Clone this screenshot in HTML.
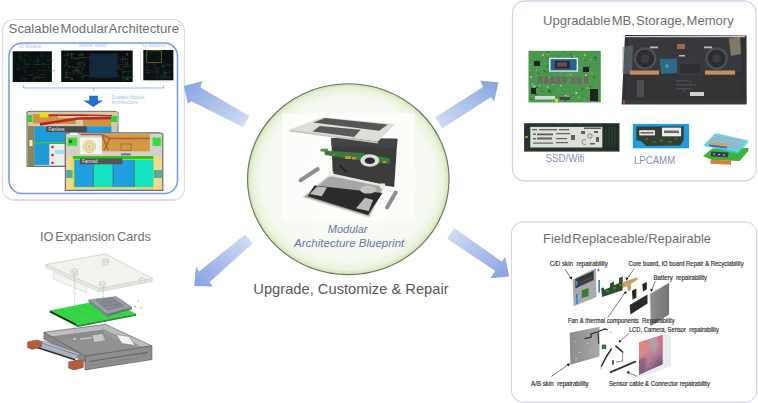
<!DOCTYPE html>
<html><head><meta charset="utf-8">
<style>
html,body{margin:0;padding:0;background:#fff;width:758px;height:403px;overflow:hidden}
svg{display:block;font-family:"Liberation Sans",sans-serif}
</style></head>
<body>
<svg width="758" height="403" viewBox="0 0 758 403">
<defs>
  <linearGradient id="arTL" x1="1" y1="1" x2="0" y2="0">
    <stop offset="0" stop-color="#d6e0f4"/><stop offset="1" stop-color="#85a2e0"/>
  </linearGradient>
  <linearGradient id="arTR" x1="0" y1="1" x2="1" y2="0">
    <stop offset="0" stop-color="#d6e0f4"/><stop offset="1" stop-color="#85a2e0"/>
  </linearGradient>
  <linearGradient id="arBL" x1="1" y1="0" x2="0" y2="1">
    <stop offset="0" stop-color="#d6e0f4"/><stop offset="1" stop-color="#85a2e0"/>
  </linearGradient>
  <linearGradient id="arBR" x1="0" y1="0" x2="1" y2="1">
    <stop offset="0" stop-color="#d6e0f4"/><stop offset="1" stop-color="#85a2e0"/>
  </linearGradient>
  <filter id="bl4" x="-10%" y="-10%" width="120%" height="120%"><feGaussianBlur stdDeviation="0.4"/></filter>
  <filter id="bl6" x="-10%" y="-10%" width="120%" height="120%"><feGaussianBlur stdDeviation="1.3"/></filter>
  <radialGradient id="circ" cx="0.5" cy="0.5" r="0.5">
    <stop offset="0" stop-color="#fbfcf8"/>
    <stop offset="0.86" stop-color="#f6f9f0"/>
    <stop offset="0.95" stop-color="#eaf2dc"/>
    <stop offset="0.985" stop-color="#d8e8c0"/>
    <stop offset="1" stop-color="#c6dba8"/>
  </radialGradient>
</defs>

<!-- panels -->
<rect x="2.5" y="19.5" width="182" height="180.5" rx="11" fill="#fff" stroke="#dedbeb" stroke-width="1.2"/>
<path d="M13 200 H175" stroke="#cfc6e6" stroke-width="1"/>
<rect x="9" y="43" width="168.5" height="150.5" rx="13" fill="none" stroke="#74a0e2" stroke-width="1.6"/>
<rect x="512.5" y="1" width="243.5" height="180" rx="12" fill="#fff" stroke="#d9d5ea" stroke-width="1.3"/>
<rect x="511.5" y="221.8" width="245.3" height="180.5" rx="12" fill="#fff" stroke="#d8d4e8" stroke-width="1.2"/>

<!-- arrows -->
<polygon points="183.8,86 202.2,81.3 200.5,87.4 249.4,116 243.3,127.3 191.3,101.2 187.8,103.8" fill="url(#arTL)"/>
<polygon points="498.5,82.6 480.3,80.5 483,86.9 435.2,117.3 442.1,128.5 490.7,97.3 494.2,101.6" fill="url(#arTR)"/>
<polygon points="194.2,286.1 196,266.6 199.1,271.5 245.1,234.5 252.9,243.2 209.5,282.3 213,286.6" fill="url(#arBL)"/>
<polygon points="509,276.4 505.3,256.8 501.6,261.5 454.2,228 447.1,238.8 495,270.8 490.4,278.2" fill="url(#arBR)"/>

<!-- circle -->
<ellipse cx="348.3" cy="179.2" rx="100.8" ry="95.4" fill="url(#circ)" stroke="#66765a" stroke-width="1.1"/>


<!-- ===== top-left panel content ===== -->
<g id="tl">
  <!-- small labels -->
  <text x="18.8" y="47.6" font-size="5" fill="#aac4f2" textLength="22.6" lengthAdjust="spacingAndGlyphs">IO Module</text>
  <text x="79" y="47.2" font-size="5" fill="#aac4f2" textLength="27.5" lengthAdjust="spacingAndGlyphs">Mother board</text>
  <text x="141.6" y="47.4" font-size="5" fill="#aac4f2" textLength="23.8" lengthAdjust="spacingAndGlyphs">IO Module</text>
  <!-- pcb 1 -->
  <rect x="12.7" y="51.3" width="39.2" height="30.7" fill="#0a1111"/>
  <g filter="url(#bl4)" opacity="0.55">
  <rect x="22.1" y="67.1" width="5.6" height="0.6" fill="#2a5a50"/>
  <rect x="34.6" y="76.6" width="5.3" height="0.6" fill="#3a6a48"/>
  <rect x="47.9" y="65.2" width="0.6" height="3.9" fill="#3a6a48"/>
  <rect x="21.9" y="56.9" width="0.6" height="3.6" fill="#2a5a50"/>
  <rect x="36.8" y="54.7" width="0.6" height="4.4" fill="#24506a"/>
  <rect x="40.5" y="74.4" width="5.6" height="0.6" fill="#4a6a40"/>
  <rect x="38.3" y="76.9" width="6.8" height="0.6" fill="#4a6a40"/>
  <rect x="46.8" y="56.5" width="2.2" height="0.6" fill="#4a6a40"/>
  <rect x="21.4" y="78.1" width="5.8" height="0.6" fill="#24506a"/>
  <rect x="28.3" y="74.7" width="5.2" height="0.6" fill="#4a6a40"/>
  <rect x="33.9" y="76.5" width="0.6" height="5.7" fill="#24506a"/>
  <rect x="47.7" y="70.5" width="7.2" height="0.6" fill="#2a5a50"/>
  <rect x="38.3" y="58.5" width="0.6" height="4.3" fill="#24506a"/>
  <rect x="18.2" y="65.5" width="0.6" height="3.9" fill="#24506a"/>
  <rect x="41.2" y="63.7" width="3.8" height="0.6" fill="#4a6a40"/>
  <rect x="43.7" y="54.1" width="0.6" height="2.2" fill="#24506a"/>
  <rect x="32.7" y="77.0" width="3.4" height="0.6" fill="#2a5a50"/>
  <rect x="24.5" y="55.0" width="2.2" height="0.6" fill="#3a6a48"/>
  <rect x="47.0" y="60.6" width="6.1" height="0.6" fill="#24506a"/>
  <rect x="24.7" y="77.9" width="0.6" height="3.5" fill="#4a6a40"/>
  <rect x="43.6" y="63.0" width="0.6" height="4.7" fill="#2a5a50"/>
  <rect x="35.1" y="77.5" width="4.6" height="0.6" fill="#3a6a48"/>
  <rect x="45.8" y="64.4" width="3.8" height="0.6" fill="#24506a"/>
  <rect x="14.4" y="63.8" width="2.1" height="0.6" fill="#3a6a48"/>
  <rect x="16.0" y="69.3" width="6.1" height="0.6" fill="#24506a"/>
  <rect x="34.7" y="60.3" width="5.5" height="0.6" fill="#2a5a50"/>
  <rect x="46.8" y="59.5" width="5.6" height="0.6" fill="#24506a"/>
  <rect x="20.0" y="57.8" width="0.6" height="5.4" fill="#24506a"/>
  <rect x="24.2" y="62.8" width="0.6" height="2.1" fill="#3a6a48"/>
  <rect x="24.5" y="58.8" width="0.6" height="3.0" fill="#3a6a48"/>
  <rect x="37.1" y="69.9" width="5.6" height="0.6" fill="#24506a"/>
  <rect x="36.9" y="58.8" width="0.6" height="5.8" fill="#2a5a50"/>
  <rect x="25.4" y="69.9" width="0.6" height="3.8" fill="#3a6a48"/>
  <rect x="40.8" y="53.9" width="0.6" height="3.3" fill="#3a6a48"/>
  <rect x="43.4" y="61.8" width="0.6" height="2.3" fill="#24506a"/>
  <rect x="34.0" y="64.0" width="7.1" height="0.6" fill="#4a6a40"/>
  <rect x="25.8" y="63.8" width="4.5" height="0.6" fill="#4a6a40"/>
  <rect x="19.3" y="53.1" width="0.6" height="5.5" fill="#4a6a40"/>
  <rect x="33.0" y="78.6" width="0.6" height="2.1" fill="#4a6a40"/>
  <rect x="42.4" y="70.2" width="3.7" height="0.6" fill="#24506a"/>
  </g>
  <path d="M54.7 51v31M15 83.2h37" stroke="#c8c8c8" stroke-width="0.4"/>
  <!-- pcb 2 motherboard -->
  <rect x="61.2" y="50.5" width="71.5" height="31.5" fill="#0a1010"/>
  <rect x="89.7" y="54" width="27.4" height="23.2" fill="#0f2a38" stroke="#2a1c40" stroke-width="0.8"/>
  <g filter="url(#bl4)" opacity="0.55">
  <rect x="82.6" y="75.3" width="0.6" height="5.9" fill="#4e6e34"/>
  <rect x="80.8" y="53.2" width="0.6" height="4.8" fill="#3e6a40"/>
  <rect x="82.7" y="76.3" width="2.1" height="0.6" fill="#4e6e34"/>
  <rect x="66.8" y="60.1" width="0.6" height="4.1" fill="#5a7a3a"/>
  <rect x="64.2" y="76.7" width="2.8" height="0.6" fill="#5a7a3a"/>
  <rect x="80.9" y="53.7" width="2.7" height="0.6" fill="#4e6e34"/>
  <rect x="66.8" y="73.4" width="0.6" height="5.2" fill="#4e6e34"/>
  <rect x="73.7" y="67.4" width="6.5" height="0.6" fill="#3e6a40"/>
  <rect x="68.9" y="66.2" width="4.8" height="0.6" fill="#4e6e34"/>
  <rect x="81.9" y="72.9" width="2.3" height="0.6" fill="#5a7a3a"/>
  <rect x="84.4" y="75.1" width="5.0" height="0.6" fill="#2a6a7a"/>
  <rect x="66.5" y="53.9" width="4.3" height="0.6" fill="#2a6a7a"/>
  <rect x="70.9" y="57.2" width="2.7" height="0.6" fill="#4e6e34"/>
  <rect x="78.8" y="62.3" width="3.1" height="0.6" fill="#2a6a7a"/>
  <rect x="73.1" y="69.6" width="5.8" height="0.6" fill="#4e6e34"/>
  <rect x="76.7" y="63.7" width="5.0" height="0.6" fill="#2a6a7a"/>
  <rect x="72.3" y="70.7" width="3.5" height="0.6" fill="#2a6a7a"/>
  <rect x="78.3" y="53.9" width="4.6" height="0.6" fill="#4e6e34"/>
  <rect x="83.6" y="62.1" width="0.6" height="5.2" fill="#2a6a7a"/>
  <rect x="65.7" y="70.6" width="0.6" height="4.9" fill="#5a7a3a"/>
  <rect x="77.7" y="71.8" width="2.6" height="0.6" fill="#4e6e34"/>
  <rect x="73.4" y="58.4" width="5.2" height="0.6" fill="#4e6e34"/>
  <rect x="77.5" y="62.1" width="0.6" height="3.4" fill="#4e6e34"/>
  <rect x="63.6" y="55.1" width="6.2" height="0.6" fill="#2a6a7a"/>
  <rect x="75.7" y="73.6" width="6.6" height="0.6" fill="#3e6a40"/>
  <rect x="65.3" y="72.2" width="0.6" height="2.2" fill="#2a6a7a"/>
  <rect x="82.1" y="56.9" width="8.0" height="0.6" fill="#3e6a40"/>
  <rect x="73.0" y="70.9" width="0.6" height="3.0" fill="#5a7a3a"/>
  <rect x="83.7" y="67.0" width="0.6" height="3.5" fill="#3e6a40"/>
  <rect x="84.4" y="63.1" width="0.6" height="2.6" fill="#5a7a3a"/>
  <rect x="66.4" y="62.8" width="0.6" height="2.7" fill="#5a7a3a"/>
  <rect x="79.5" y="76.7" width="4.7" height="0.6" fill="#3e6a40"/>
  <rect x="66.0" y="72.3" width="5.1" height="0.6" fill="#3e6a40"/>
  <rect x="81.7" y="66.5" width="0.6" height="4.7" fill="#5a7a3a"/>
  <rect x="76.1" y="67.8" width="0.6" height="5.6" fill="#2a6a7a"/>
  <rect x="63.5" y="64.9" width="3.0" height="0.6" fill="#2a6a7a"/>
  <rect x="68.3" y="65.0" width="0.6" height="3.7" fill="#5a7a3a"/>
  <rect x="78.4" y="57.6" width="7.4" height="0.6" fill="#4e6e34"/>
  <rect x="73.6" y="71.5" width="0.6" height="3.6" fill="#4e6e34"/>
  <rect x="73.3" y="58.2" width="6.3" height="0.6" fill="#4e6e34"/>
  <rect x="84.1" y="75.1" width="3.1" height="0.6" fill="#2a6a7a"/>
  <rect x="66.0" y="68.8" width="0.6" height="2.1" fill="#2a6a7a"/>
  <rect x="66.7" y="53.2" width="2.5" height="0.6" fill="#4e6e34"/>
  <rect x="65.6" y="59.1" width="0.6" height="2.1" fill="#5a7a3a"/>
  <rect x="75.8" y="70.2" width="4.0" height="0.6" fill="#5a7a3a"/>
  <rect x="71.4" y="54.1" width="0.6" height="5.0" fill="#5a7a3a"/>
  <rect x="71.6" y="66.7" width="3.6" height="0.6" fill="#5a7a3a"/>
  <rect x="65.5" y="76.0" width="0.6" height="2.4" fill="#2a6a7a"/>
  <rect x="77.9" y="61.9" width="6.0" height="0.6" fill="#2a6a7a"/>
  <rect x="65.4" y="77.5" width="5.4" height="0.6" fill="#4e6e34"/>
  <rect x="77.7" y="65.7" width="3.8" height="0.6" fill="#3e6a40"/>
  <rect x="77.2" y="71.7" width="4.2" height="0.6" fill="#5a7a3a"/>
  <rect x="65.7" y="77.2" width="4.0" height="0.6" fill="#5a7a3a"/>
  <rect x="75.2" y="69.5" width="3.9" height="0.6" fill="#3e6a40"/>
  <rect x="78.5" y="54.9" width="5.3" height="0.6" fill="#5a7a3a"/>
  <rect x="121.6" y="59.2" width="7.2" height="0.6" fill="#4e6e34"/>
  <rect x="122.8" y="59.3" width="0.6" height="4.1" fill="#2a6a7a"/>
  <rect x="127.5" y="64.1" width="0.6" height="2.3" fill="#5a7a3a"/>
  <rect x="126.5" y="55.0" width="2.6" height="0.6" fill="#4e6e34"/>
  <rect x="123.6" y="76.6" width="6.2" height="0.6" fill="#5a7a3a"/>
  <rect x="124.7" y="62.6" width="0.6" height="2.5" fill="#3e6a40"/>
  <rect x="126.6" y="73.6" width="3.0" height="0.6" fill="#3e6a40"/>
  <rect x="120.0" y="58.8" width="0.6" height="2.1" fill="#5a7a3a"/>
  <rect x="126.9" y="77.6" width="5.3" height="0.6" fill="#2a6a7a"/>
  <rect x="124.3" y="78.4" width="0.6" height="3.2" fill="#5a7a3a"/>
  <rect x="118.3" y="57.1" width="0.6" height="2.4" fill="#3e6a40"/>
  <rect x="122.9" y="66.1" width="3.2" height="0.6" fill="#3e6a40"/>
  <rect x="118.4" y="65.5" width="0.6" height="3.8" fill="#2a6a7a"/>
  <rect x="127.6" y="76.1" width="6.8" height="0.6" fill="#4e6e34"/>
  <rect x="118.3" y="68.7" width="5.0" height="0.6" fill="#4e6e34"/>
  <rect x="127.3" y="60.7" width="0.6" height="4.8" fill="#3e6a40"/>
  <rect x="118.8" y="74.7" width="0.6" height="2.1" fill="#4e6e34"/>
  <rect x="125.4" y="61.3" width="0.6" height="5.7" fill="#3e6a40"/>
  <rect x="122.4" y="72.4" width="2.7" height="0.6" fill="#4e6e34"/>
  <rect x="122.1" y="74.8" width="0.6" height="3.6" fill="#5a7a3a"/>
  <rect x="125.0" y="66.5" width="5.9" height="0.6" fill="#2a6a7a"/>
  <rect x="118.2" y="64.4" width="0.6" height="3.8" fill="#5a7a3a"/>
  <rect x="127.0" y="71.4" width="4.2" height="0.6" fill="#2a6a7a"/>
  <rect x="124.0" y="58.0" width="3.3" height="0.6" fill="#2a6a7a"/>
  <rect x="119.4" y="64.4" width="3.3" height="0.6" fill="#3e6a40"/>
  <rect x="123.8" y="65.6" width="0.6" height="2.6" fill="#3e6a40"/>
  <rect x="122.4" y="57.0" width="0.6" height="3.6" fill="#2a6a7a"/>
  <rect x="122.1" y="71.0" width="4.4" height="0.6" fill="#5a7a3a"/>
  <rect x="122.9" y="76.5" width="0.6" height="3.0" fill="#5a7a3a"/>
  <rect x="122.7" y="56.4" width="0.6" height="3.4" fill="#4e6e34"/>
  <circle cx="72" cy="54" r="1.3" fill="#2a6a86"/><circle cx="72" cy="79" r="1.3" fill="#2a6a86"/><circle cx="127" cy="54" r="1.3" fill="#2a6a86"/><circle cx="127" cy="79" r="1.3" fill="#2a6a86"/>
  </g>
  <path d="M140.4 52v28" stroke="#c8c8c8" stroke-width="0.4"/>
  <!-- pcb 3 -->
  <rect x="143.3" y="50" width="30.1" height="30.3" fill="#0a1212"/>
  <rect x="146.8" y="50.8" width="14.5" height="11.8" fill="none" stroke="#8a7a1c" stroke-width="0.7"/>
  <g filter="url(#bl4)" opacity="0.55">
  <rect x="159.3" y="75.1" width="7.9" height="0.6" fill="#24506a"/>
  <rect x="163.9" y="77.4" width="5.4" height="0.6" fill="#2a5a50"/>
  <rect x="164.6" y="72.4" width="2.6" height="0.6" fill="#3a6a48"/>
  <rect x="155.4" y="64.3" width="0.6" height="2.4" fill="#3a6a48"/>
  <rect x="147.2" y="65.6" width="2.3" height="0.6" fill="#3a6a48"/>
  <rect x="157.2" y="68.0" width="0.6" height="5.0" fill="#24506a"/>
  <rect x="164.3" y="76.8" width="0.6" height="2.1" fill="#24506a"/>
  <rect x="163.0" y="72.5" width="7.7" height="0.6" fill="#2a5a50"/>
  <rect x="165.4" y="64.7" width="4.0" height="0.6" fill="#3a6a48"/>
  <rect x="163.7" y="69.0" width="0.6" height="5.5" fill="#24506a"/>
  <rect x="165.1" y="71.3" width="0.6" height="3.5" fill="#24506a"/>
  <rect x="155.5" y="69.7" width="0.6" height="3.4" fill="#2a5a50"/>
  <rect x="157.2" y="74.3" width="0.6" height="4.8" fill="#24506a"/>
  <rect x="146.0" y="65.6" width="0.6" height="5.3" fill="#2a5a50"/>
  <rect x="163.2" y="73.2" width="3.4" height="0.6" fill="#3a6a48"/>
  <rect x="146.4" y="72.2" width="4.8" height="0.6" fill="#3a6a48"/>
  <rect x="160.5" y="78.0" width="3.2" height="0.6" fill="#2a5a50"/>
  <rect x="153.1" y="67.7" width="6.9" height="0.6" fill="#2a5a50"/>
  <rect x="150.8" y="63.7" width="5.9" height="0.6" fill="#3a6a48"/>
  <rect x="168.6" y="64.7" width="3.3" height="0.6" fill="#3a6a48"/>
  <rect x="157.4" y="70.6" width="0.6" height="3.3" fill="#3a6a48"/>
  <rect x="163.8" y="70.0" width="0.6" height="2.2" fill="#2a5a50"/>
  <rect x="159.4" y="75.9" width="7.7" height="0.6" fill="#24506a"/>
  <rect x="147.1" y="70.0" width="7.0" height="0.6" fill="#3a6a48"/>
  <rect x="147.6" y="70.3" width="0.6" height="4.8" fill="#24506a"/>
  <circle cx="163" cy="66" r="1.6" fill="#235f6a"/></g>
  <path d="M150 82h20" stroke="#c8c8c8" stroke-width="0.4"/>
  <!-- bracket -->
  <path d="M23.6 85.5v2.5h139.8v-2.5M93.6 88v2.5" stroke="#7fa4e6" stroke-width="0.8" fill="none"/>
  <!-- down arrow -->
  <polygon points="89.3,95.7 97.9,95.7 97.9,100.6 103,100.6 93.3,107 83.3,100.6 89.3,100.6" fill="#1f6fcf"/>
  <text x="111.6" y="99" font-size="4.6" fill="#a4c0f0" textLength="33" lengthAdjust="spacingAndGlyphs">Scalable Module</text>
  <text x="111.6" y="104" font-size="4.6" fill="#a4c0f0" textLength="26" lengthAdjust="spacingAndGlyphs">Architecture</text>

  <!-- layout 1 (fanless, back) -->
  <g>
    <path d="M27 112 L30 111.3 L115 111.3 L118 112.5 L118 166.5 L27 166.5 Z" fill="#c9c6bc" stroke="#6e6e6e" stroke-width="1"/>
    <rect x="28" y="112" width="89.5" height="14" fill="#d7cba4"/>
    <rect x="32.9" y="114" width="24.8" height="9.4" fill="#d09440"/>
    <rect x="56" y="118" width="20" height="6" fill="#c89440"/>
    <rect x="83" y="119" width="28" height="7" fill="#d09440"/>
    <rect x="39.9" y="113" width="7.9" height="4.4" fill="#ece000"/>
    <path d="M39.9 124.4 L62 121 L78 118.5 L114 118" stroke="#b8222a" stroke-width="2.6" fill="none"/>
    <path d="M48.8 115.4 L80 115 L112 115.8" stroke="#b8222a" stroke-width="1.6" fill="none"/>
    <rect x="27.8" y="115" width="4.5" height="7" fill="#30d040"/>
    <rect x="111" y="116" width="6" height="6" fill="#30d040"/>
    <rect x="28" y="126" width="6.4" height="40" fill="#8f8458"/>
    <rect x="29.5" y="140" width="3" height="6" fill="#f2ecd0"/>
    <rect x="34.4" y="126.3" width="77" height="15.9" fill="#1e9ad6"/>
    <rect x="34.4" y="142.2" width="35" height="1.8" fill="#2fb84f"/>
    <rect x="34.4" y="144" width="15.1" height="21" fill="#1e9ad6"/>
    <rect x="49.4" y="144" width="15.1" height="21" fill="#eceeec"/>
    <g fill="#e0202a"><circle cx="52.5" cy="147" r="1.3"/><circle cx="52.5" cy="155" r="1.3"/><circle cx="52.5" cy="163" r="1.3"/></g>
    <rect x="55" y="150" width="9" height="4" fill="#9fe0e8"/>
    <rect x="46.3" y="126.3" width="40.5" height="5.7" fill="#4a4a4a"/>
    <text x="48.5" y="130.9" font-size="4.6" fill="#e8e8e8">Fanless</text>
    <rect x="87.5" y="127" width="23" height="5" fill="#1e9ad6"/>
  </g>
  <!-- layout 2 (fanned, front) -->
  <g>
    <path d="M65.4 134 L68 132.8 L160 132.8 L162.8 134 L162.8 190.4 L65.4 190.4 Z" fill="#d2d0c8" stroke="#6e6e6e" stroke-width="1.2"/>
    <rect x="101.8" y="134.2" width="48" height="17.1" fill="#d29a42"/>
    <path d="M80.5 134.6 H102 L110 138.5 H149.8 M102 134.6 L108 150 M110 138.5 L104 150" stroke="#b4583a" stroke-width="1.4" fill="none"/>
    <rect x="121" y="144" width="10" height="6.5" fill="none" stroke="#8a5a2a" stroke-width="0.6"/>
    <path d="M131 142 V151" stroke="#b0803a" stroke-width="0.5"/>
    <rect x="79.8" y="137.6" width="22" height="16.5" fill="#f6f5ee"/>
    <circle cx="89.4" cy="146.5" r="6.2" fill="#eee3b4" stroke="#cdb86a" stroke-width="0.6"/>
    <circle cx="89.4" cy="146.5" r="3.8" fill="none" stroke="#c6ae60" stroke-width="0.6"/>
    <circle cx="89.4" cy="146.5" r="1.6" fill="#dcc67a"/>
    <rect x="67.5" y="137.6" width="9.6" height="8.2" fill="#34de34"/>
    <rect x="69" y="140" width="3" height="3" fill="#3a5a3a"/>
    <rect x="152.5" y="137.6" width="8.3" height="8.2" fill="#34de34"/>
    <rect x="70.2" y="132.8" width="7.6" height="2.1" fill="#f8f8f8"/>
    <rect x="121" y="153.4" width="9.6" height="2" fill="#6a6aa0"/>
    <rect x="72.6" y="155.8" width="81" height="32.1" fill="#e6e000"/>
    <rect x="72.6" y="156.1" width="81" height="2.8" fill="#22c02a"/>
    <rect x="74.3" y="159.7" width="19.1" height="27.3" fill="#1fa0e0"/>
    <rect x="93.4" y="159.7" width="19.7" height="27.3" fill="#14e3c2"/>
    <rect x="113.1" y="159.7" width="21.1" height="27.3" fill="#1fa0e0"/>
    <rect x="134.2" y="159.7" width="19.4" height="27.3" fill="#14e3c2"/>
    <path d="M93.4 159.7v27.3M113.1 159.7v27.3M134.2 159.7v27.3" stroke="#335" stroke-width="0.5"/>
    <rect x="66.2" y="156" width="6.4" height="33.5" fill="#f0d890"/>
    <rect x="66.2" y="170" width="6.4" height="8" fill="#4fb09a"/>
    <rect x="153.6" y="156" width="8.4" height="33.5" fill="#f0d890"/>
    <rect x="153.6" y="170" width="8.4" height="8" fill="#4fb09a"/>
    <rect x="79.9" y="158.4" width="42.5" height="5.9" fill="#535353"/>
    <text x="82" y="163" font-size="4.6" fill="#eeeeee">Fanned</text>
  </g>
</g>


<!-- ===== center laptop ===== -->
<g id="center">
  <rect x="282" y="113.4" width="133" height="106.4" fill="#ffffff" opacity="0.6"/>
  <!-- display panel -->
  <polygon points="331.3,138.1 397.4,138.7 394.2,187 332.9,177.4" fill="#3c3c3c"/>
  <polygon points="331.3,138.1 397.4,138.7 396.8,148 331.5,146" fill="#444444"/>
  <!-- pcb strip -->
  <polygon points="324,150.5 362,153 390,158.5 389,164 362,160.5 325,155" fill="#3a7a3a"/>
  <polygon points="320.5,148.8 328,148.8 328,151.6 320.5,151.4" fill="#4a9248"/>
  <g fill="#d08a3a"><rect x="333" y="154" width="2" height="1.5"/><rect x="345" y="156" width="6" height="3"/><rect x="352" y="157" width="4" height="2.5"/><rect x="383" y="161" width="3" height="2"/></g>
  <ellipse cx="369.8" cy="160.5" rx="9.5" ry="6.2" fill="#dedede"/>
  <ellipse cx="369.8" cy="160.8" rx="5.2" ry="3.2" fill="#2c2c2c"/>
  <path d="M339.3 165.3 L346.7 171.7" stroke="#1c1c1c" stroke-width="1.3"/>
  <!-- top deck -->
  <polygon points="289.5,129.5 322.4,117.3 395,123.9 377.8,141.7" fill="#dfddd9"/>
  <polygon points="289.5,129.5 377.8,141.7 377.8,143.6 289.5,131.5" fill="#c6c3be"/>
  <polygon points="325,117.9 387.7,124.5 379.2,130.8 313.2,122.6" fill="#555555"/>
  <polygon points="319.8,125.9 360.7,129.8 354.1,137.1 312.5,131.5" fill="#595959"/>
  <!-- left stick -->
  <path d="M300.5 180.3 L317.7 169" stroke="#8e8e8e" stroke-width="4" stroke-linecap="round"/>
  <!-- base -->
  <polygon points="331.3,174 384.3,185.5 369.4,217.1 303,197" fill="#a6a6a6" stroke="#e2dccd" stroke-width="1.3"/>
  <polygon points="314.4,185.6 382.5,193 368,214.9 307.7,196.3" fill="#2b2b2b"/>
  <polygon points="317.3,186.2 327,187.6 321.8,196.3 309.9,194" fill="#bcbcbc"/>
  <polygon points="365,197.7 373.1,200 368.7,211.1 356,208.2" fill="#bcbcbc"/>
  <ellipse cx="368" cy="189.6" rx="8" ry="4" fill="#c2c2c2"/>
  <path d="M330.7 175 L384.3 186" stroke="#ebe7df" stroke-width="2.2"/>
  <rect x="328.5" y="171.5" width="5" height="5" fill="#efe9dc"/>
  <rect x="380" y="183.5" width="5" height="5" fill="#efe9dc"/>
  <!-- right stick -->
  <path d="M387 207.5 L395.7 192.5" stroke="#8e8e8e" stroke-width="4" stroke-linecap="round"/>
  <text x="327.8" y="232.7" font-size="10" font-style="italic" fill="#6578aa" textLength="39.7" lengthAdjust="spacingAndGlyphs">Modular</text>
  <text x="294" y="246.7" font-size="10.6" font-style="italic" fill="#6578aa" textLength="110.3" lengthAdjust="spacingAndGlyphs">Architecture Blueprint</text>
</g>


<!-- ===== top-right panel content ===== -->
<g id="tr">
  <!-- motherboard -->
  <rect x="528.5" y="50.8" width="72.3" height="51.6" fill="#4a9850"/>
  <rect x="574.6" y="55.1" width="2" height="0.8" fill="#5aa860"/>
  <rect x="569.8" y="97.0" width="1" height="0.8" fill="#2f6a34"/>
  <rect x="559.4" y="55.0" width="0.8" height="1.5" fill="#2f6a34"/>
  <rect x="586.9" y="57.7" width="1" height="0.8" fill="#2a3a2a"/>
  <rect x="570.0" y="54.0" width="1" height="0.8" fill="#2a3a2a"/>
  <rect x="589.1" y="66.0" width="1" height="0.8" fill="#2a3a2a"/>
  <rect x="550.6" y="92.3" width="1" height="0.8" fill="#2a3a2a"/>
  <rect x="535.8" y="87.1" width="2" height="0.8" fill="#2a3a2a"/>
  <rect x="543.4" y="85.5" width="1.6" height="1.2" fill="#6ab870"/>
  <rect x="570.0" y="74.2" width="1.2" height="1" fill="#d8e0d0"/>
  <rect x="541.6" y="90.5" width="0.8" height="1.2" fill="#2a3a2a"/>
  <rect x="560.4" y="81.9" width="0.8" height="0.8" fill="#2a3a2a"/>
  <rect x="558.3" y="89.4" width="1" height="1.5" fill="#6ab870"/>
  <rect x="531.7" y="84.9" width="2" height="1.2" fill="#5aa860"/>
  <rect x="577.7" y="81.2" width="2" height="1.5" fill="#2f6a34"/>
  <rect x="587.8" y="98.7" width="1.6" height="0.8" fill="#2f6a34"/>
  <rect x="580.2" y="67.0" width="2" height="1.5" fill="#5aa860"/>
  <rect x="579.2" y="95.9" width="1.2" height="0.8" fill="#6ab870"/>
  <rect x="553.9" y="82.0" width="1.6" height="0.8" fill="#2a5f2c"/>
  <rect x="582.8" y="58.0" width="1" height="1.5" fill="#6ab870"/>
  <rect x="593.2" y="76.3" width="1" height="1.5" fill="#6ab870"/>
  <rect x="567.5" y="95.7" width="1.6" height="1.2" fill="#c0b070"/>
  <rect x="590.9" y="99.4" width="1" height="0.8" fill="#2a5f2c"/>
  <rect x="539.6" y="84.4" width="0.8" height="1.5" fill="#d8e0d0"/>
  <rect x="529.3" y="72.4" width="1.2" height="1.2" fill="#2a5f2c"/>
  <rect x="577.3" y="77.3" width="2" height="0.8" fill="#6ab870"/>
  <rect x="592.0" y="90.5" width="2" height="1.5" fill="#6ab870"/>
  <rect x="556.9" y="56.7" width="1.6" height="0.8" fill="#2a5f2c"/>
  <rect x="533.7" y="61.9" width="1" height="0.8" fill="#5aa860"/>
  <rect x="571.1" y="56.6" width="2" height="1" fill="#2a3a2a"/>
  <rect x="536.1" y="69.7" width="0.8" height="0.8" fill="#d8e0d0"/>
  <rect x="543.6" y="70.3" width="1.2" height="1.2" fill="#2a3a2a"/>
  <rect x="588.4" y="101.2" width="1.6" height="1.5" fill="#6ab870"/>
  <rect x="581.5" y="88.5" width="1.6" height="1" fill="#2a3a2a"/>
  <rect x="530.6" y="99.0" width="2" height="1.2" fill="#2a5f2c"/>
  <rect x="577.3" y="97.2" width="2" height="1.2" fill="#c0b070"/>
  <rect x="589.4" y="86.3" width="1.2" height="1.2" fill="#2a5f2c"/>
  <rect x="566.9" y="76.6" width="1" height="1" fill="#d8e0d0"/>
  <rect x="545.8" y="71.5" width="1" height="1" fill="#2a3a2a"/>
  <rect x="563.5" y="88.1" width="0.8" height="1.2" fill="#6ab870"/>
  <rect x="547.1" y="86.1" width="1.2" height="1.5" fill="#d8e0d0"/>
  <rect x="594.6" y="100.9" width="1.2" height="0.8" fill="#2a5f2c"/>
  <rect x="536.2" y="75.0" width="1.2" height="1" fill="#6ab870"/>
  <rect x="572.7" y="96.5" width="0.8" height="1.5" fill="#c0b070"/>
  <rect x="553.1" y="83.7" width="0.8" height="1.5" fill="#d8e0d0"/>
  <rect x="591.2" y="73.2" width="1.2" height="0.8" fill="#d8e0d0"/>
  <rect x="595.2" y="87.6" width="1.6" height="1.5" fill="#c0b070"/>
  <rect x="595.3" y="87.7" width="1" height="1" fill="#2f6a34"/>
  <rect x="539.6" y="96.7" width="1" height="1.5" fill="#c0b070"/>
  <rect x="594.6" y="59.3" width="2" height="1" fill="#2f6a34"/>
  <rect x="530.0" y="100.0" width="0.8" height="1" fill="#6ab870"/>
  <rect x="598.1" y="61.2" width="1" height="0.8" fill="#5aa860"/>
  <rect x="543.9" y="76.6" width="2" height="1.2" fill="#5aa860"/>
  <rect x="567.1" y="93.2" width="0.8" height="1.2" fill="#6ab870"/>
  <rect x="575.4" y="92.3" width="2" height="1.5" fill="#d8e0d0"/>
  <rect x="593.2" y="76.6" width="2" height="1" fill="#2a3a2a"/>
  <rect x="564.7" y="95.1" width="1" height="0.8" fill="#d8e0d0"/>
  <rect x="584.9" y="60.1" width="1.6" height="0.8" fill="#2a3a2a"/>
  <rect x="533.3" y="85.6" width="2" height="1.5" fill="#d8e0d0"/>
  <rect x="583.4" y="95.7" width="0.8" height="1" fill="#2a5f2c"/>
  <rect x="548.4" y="90.1" width="2" height="1.5" fill="#2a3a2a"/>
  <rect x="531.0" y="96.2" width="0.8" height="1.5" fill="#5aa860"/>
  <rect x="571.9" y="76.8" width="2" height="1" fill="#c0b070"/>
  <rect x="548.4" y="76.9" width="1.6" height="1" fill="#c0b070"/>
  <rect x="565.6" y="95.3" width="1.2" height="1" fill="#d8e0d0"/>
  <rect x="560.3" y="72.3" width="1.6" height="1.5" fill="#5aa860"/>
  <rect x="534.1" y="63.5" width="0.8" height="1" fill="#c0b070"/>
  <rect x="583.4" y="98.5" width="1.2" height="1" fill="#5aa860"/>
  <rect x="590.8" y="99.9" width="1" height="0.8" fill="#6ab870"/>
  <rect x="590.9" y="59.6" width="1" height="1" fill="#c0b070"/>
  <rect x="559.2" y="77.3" width="1.2" height="1.5" fill="#2a5f2c"/>
  <rect x="554.0" y="56.1" width="1.2" height="0.8" fill="#5aa860"/>
  <rect x="567.8" y="73.5" width="0.8" height="1.5" fill="#5aa860"/>
  <rect x="596.3" y="57.1" width="1" height="0.8" fill="#2f6a34"/>
  <rect x="547.6" y="53.5" width="1" height="1.2" fill="#d8e0d0"/>
  <rect x="538.1" y="72.6" width="1.2" height="1.5" fill="#2a5f2c"/>
  <rect x="566.6" y="77.2" width="1.6" height="1.2" fill="#2f6a34"/>
  <rect x="548.5" y="91.5" width="1" height="1.5" fill="#2f6a34"/>
  <rect x="547.8" y="52.3" width="0.8" height="1.2" fill="#2f6a34"/>
  <rect x="547.5" y="57.6" width="0.8" height="1.2" fill="#2a3a2a"/>
  <rect x="558.2" y="97.3" width="2" height="1" fill="#2f6a34"/>
  <rect x="536.7" y="59.6" width="0.8" height="1" fill="#2a5f2c"/>
  <rect x="594.3" y="82.9" width="2" height="1" fill="#5aa860"/>
  <rect x="560.2" y="85.1" width="1.2" height="1.2" fill="#d8e0d0"/>
  <rect x="530.3" y="64.0" width="0.8" height="0.8" fill="#c0b070"/>
  <rect x="564.4" y="100.4" width="2" height="1.5" fill="#2a5f2c"/>
  <rect x="594.4" y="56.8" width="1.6" height="1.5" fill="#2a3a2a"/>
  <rect x="587.4" y="71.2" width="2" height="1.2" fill="#c0b070"/>
  <rect x="544.1" y="63.0" width="1" height="1" fill="#6ab870"/>
  <rect x="598.3" y="100.6" width="1" height="0.8" fill="#2f6a34"/>
  <rect x="572.8" y="95.5" width="1.6" height="1" fill="#2f6a34"/>
  <rect x="534.9" y="93.6" width="2" height="1.2" fill="#2a3a2a"/>
  <rect x="546.0" y="66.2" width="1.6" height="1" fill="#2a5f2c"/>
  <rect x="547.8" y="51.7" width="1.2" height="1.2" fill="#2a3a2a"/>
  <rect x="551.6" y="53.2" width="1.2" height="1" fill="#5aa860"/>
  <rect x="541.8" y="68.3" width="0.8" height="1.5" fill="#5aa860"/>
  <rect x="564.3" y="51.7" width="1.2" height="0.8" fill="#2a5f2c"/>
  <rect x="557.0" y="53.6" width="0.8" height="1.2" fill="#5aa860"/>
  <rect x="573.1" y="55.7" width="2" height="1" fill="#c0b070"/>
  <rect x="591.5" y="90.7" width="2" height="1.5" fill="#d8e0d0"/>
  <rect x="551.8" y="100.7" width="1" height="1.2" fill="#c0b070"/>
  <rect x="586.7" y="87.3" width="2" height="1.5" fill="#c0b070"/>
  <rect x="578.1" y="76.8" width="2" height="0.8" fill="#d8e0d0"/>
  <rect x="577.1" y="91.4" width="1" height="0.8" fill="#2f6a34"/>
  <rect x="531.9" y="83.4" width="0.8" height="1.5" fill="#d8e0d0"/>
  <rect x="549.1" y="57.8" width="29" height="13.9" fill="#e6ecee"/>
  <rect x="550.6" y="59.1" width="26" height="11.3" fill="#23638e"/>
  <rect x="555" y="61" width="15" height="7.5" fill="#2a2a30"/>
  <rect x="557" y="62.5" width="10" height="4" fill="#7a4a4a"/>
  <g fill="#6e6a60">
    <rect x="538" y="76.6" width="4.5" height="7"/><rect x="544" y="76.6" width="4.5" height="7"/>
    <rect x="550" y="76.6" width="4.5" height="7"/><rect x="556" y="76.6" width="4.5" height="7"/>
    <rect x="562" y="76.6" width="4.5" height="7"/><rect x="571" y="76.6" width="4.5" height="7"/>
    <rect x="577" y="76.6" width="4.5" height="7"/><rect x="584" y="76.6" width="4.5" height="7"/>
  </g>
  <g fill="#222"><rect x="534" y="61" width="6" height="5"/><rect x="583" y="67" width="6" height="5"/><rect x="590" y="89" width="8" height="12"/><rect x="531" y="88" width="5" height="6"/></g>
  <rect x="535" y="96" width="20" height="3.5" fill="#d8d8d8"/>
  <rect x="560" y="97" width="10" height="3" fill="#444"/>
  <circle cx="556.5" cy="100.2" r="1.8" fill="#e8d830"/>
  <g fill="#d8c060"><circle cx="543" cy="55" r="1"/><circle cx="585" cy="55" r="1"/><circle cx="586" cy="75" r="1"/><circle cx="531" cy="77" r="1"/></g>
  
  <!-- laptop internals -->
  <polygon points="625,35 746.5,35.5 746.7,104.3 621.7,104.3" fill="#303134"/>
  <rect x="628" y="37" width="113" height="35" fill="#37383b"/>
  <polygon points="622.5,47 633,45 632,74 622.5,74" fill="#6f7a80" opacity="0.55"/>
  <polygon points="728.8,38.4 740,37 741,54 731,56" fill="#a89a80" opacity="0.65"/>
  <rect x="623" y="36" width="122" height="1.2" fill="#cfcfcf"/>
  <circle cx="645.1" cy="58.5" r="11.2" fill="#505155"/>
  <circle cx="645.1" cy="58.5" r="9" fill="#2c2d30"/>
  <circle cx="645.1" cy="58.5" r="4.2" fill="#3c3d40"/>
  <circle cx="716.6" cy="58.5" r="11.2" fill="#505155"/>
  <circle cx="716.6" cy="58.5" r="9" fill="#2c2d30"/>
  <circle cx="716.6" cy="58.5" r="4.2" fill="#3c3d40"/>
  <rect x="650" y="46.5" width="8" height="1.8" fill="#bdbdbd"/>
  <rect x="704" y="46.5" width="8" height="1.8" fill="#bdbdbd"/>
  <polygon points="659.6,59 679.7,58.5 679.7,73 661,74" fill="#2c6a86"/>
  <circle cx="667" cy="66" r="1.8" fill="#5a9ab0"/>
  <rect x="677" y="54" width="25" height="22" fill="#38393c"/>
  <rect x="679" y="55" width="6" height="1.5" fill="#bbb"/>
  <rect x="680" y="64" width="20" height="9" fill="#2e2f32"/>
  <rect x="630" y="70.5" width="29" height="4.2" fill="#c88a62"/>
  <rect x="705" y="70.5" width="30" height="4.2" fill="#c88a62"/>
  <rect x="677" y="44" width="8" height="5" fill="#a0684a"/>
  <rect x="626" y="75.5" width="115" height="25" fill="#333436"/>
  <rect x="637" y="80" width="7" height="17" fill="#4e4e50"/>
  <rect x="690" y="92" width="14" height="4" fill="#d0d0d0"/>
  <g fill="#4a4b4e"><rect x="676" y="80" width="12" height="1.5"/><rect x="676" y="84" width="20" height="1.5"/><rect x="676" y="88" width="16" height="1.5"/><circle cx="690" cy="82" r="1.2"/><circle cx="684" cy="91" r="1.2"/></g>
  <rect x="622" y="100.5" width="124" height="3.8" fill="#3a3a3a"/>
  <rect x="623" y="100" width="2" height="4" fill="#c04040"/>
  <!-- SSD -->
  <rect x="524.1" y="123.2" width="95.4" height="28.4" fill="#27362b"/>
  <rect x="530.3" y="126.9" width="72" height="20.6" fill="#dcdfda"/>
  <g fill="#4a4a4a" filter="url(#bl4)" opacity="0.85">
    <rect x="532" y="129" width="5" height="1.3"/><rect x="539" y="129" width="18" height="1.3"/><rect x="559" y="129" width="10" height="1.3"/>
    <rect x="533" y="133.5" width="3" height="1.5"/><rect x="537" y="133.5" width="16" height="1.8"/><rect x="556" y="133" width="14" height="1.2"/>
    <rect x="533" y="138" width="3" height="1.5"/><rect x="537" y="137.5" width="15" height="2"/><rect x="556" y="138" width="11" height="1.2"/>
    <rect x="533" y="142.5" width="20" height="1.2"/><rect x="556" y="142" width="12" height="1.2"/>
    <rect x="571" y="135" width="4" height="5"/>
    <rect x="584" y="127.5" width="17" height="1.5"/>
    <circle cx="590" cy="136" r="2.2" fill="none" stroke="#4a4a4a" stroke-width="0.7"/>
    <rect x="581" y="131" width="4" height="3"/><rect x="594" y="131" width="4" height="2"/>
    <path d="M586 140 a2.5 2.5 0 1 0 0 4" fill="none" stroke="#4a4a4a" stroke-width="0.7"/>
    <rect x="596" y="137" width="3" height="5"/><rect x="590" y="143" width="5" height="1.5"/>
  </g>
  <rect x="603.7" y="124.5" width="14.4" height="25.5" fill="#1f2a22"/>
  <g stroke="#57655a" stroke-width="0.4"><path d="M606 127v20M609 127v20M612 127v20M615 127v20"/></g>
  <circle cx="526.5" cy="137" r="1.3" fill="#c8a040"/>
  <g fill="#5a6a5a"><rect x="557" y="123.8" width="1.5" height="1"/><rect x="569" y="123.8" width="1.5" height="1"/><rect x="580" y="123.8" width="1.5" height="1"/></g>
  <!-- LPCAMM -->
  <rect x="632.8" y="123.9" width="56.3" height="24.4" fill="#1e9ee0"/>
  <polygon points="636.3,126.5 683.7,126.3 683.7,140 680.3,145.5 646,146 641,141 636.3,140.5" fill="#34402f"/>
  <g fill="#5a6a50" opacity="0.7"><rect x="645" y="138" width="3" height="2"/><rect x="652" y="141" width="4" height="1.5"/><rect x="660" y="139" width="3" height="3"/><rect x="668" y="141" width="4" height="2"/><rect x="675" y="138" width="3" height="1.5"/></g>
  <rect x="639.3" y="130.2" width="15.7" height="5.2" fill="#e6e8e4"/>
  <rect x="662" y="127.6" width="19.1" height="8.7" fill="#eceeea"/>
  <g fill="#6a6a6a"><rect x="640.5" y="132" width="13" height="1.6"/><rect x="664" y="130.5" width="15" height="2.6"/></g>
  <!-- 3D module -->
  <polygon points="703,156 712.3,148.5 748.3,148 748.3,151 739.6,161 712,160" fill="#3cb43c"/>
  <polygon points="711,151.6 728.5,152.5 728,157.2 711,156.5" fill="#3a3a48"/>
  <g fill="#ccc"><rect x="713" y="153.5" width="2" height="1"/><rect x="718" y="154" width="2" height="1"/><rect x="723" y="154.5" width="2" height="1"/></g>
  <polygon points="710.5,159.7 731,160.5 731,164.7 710.5,163.8" fill="#d9803a"/>
  <polygon points="704.3,144.2 715.4,133 748.3,140.5 737.8,152.3" fill="#5ee4f0"/>
  <polygon points="704.3,144.2 737.8,152.3 737.8,153.8 704.3,145.8" fill="#30c8e0"/>
  <polygon points="737.8,152.3 748.3,140.5 748.3,142 737.8,153.8" fill="#38d0e4"/>
  <polygon points="707,142.5 716,134.5 745,141 736.5,150" fill="#a8bccb" opacity="0.75"/>
  <path d="M707.6 145.0 L718.7 133.8 M711.0 145.8 L722.0 134.5 M714.3 146.6 L725.3 135.2 M717.7 147.4 L728.6 136.0 M721.0 148.2 L731.8 136.8 M724.4 149.1 L735.1 137.5 M727.8 149.9 L738.4 138.2 M731.1 150.7 L741.7 139.0 M734.4 151.5 L745.0 139.8 M706.5 142.0 L739.9 149.9 M708.7 139.7 L742.0 147.6 M711.0 137.5 L744.1 145.2 M713.2 135.2 L746.2 142.9" stroke="#7a8c9c" stroke-width="0.35" opacity="0.9"/>
  <polygon points="709.2,142.3 727.2,144.5 727.2,146.7 709.2,144.5" fill="#c8b040"/>
  <polygon points="709.2,144.5 727.2,146.7 727.2,148.5 709.2,146.2" fill="#6a4cc0"/>
  <path d="M735 131 h7" stroke="#bbb" stroke-width="0.4"/>
</g>


<!-- ===== IO expansion card ===== -->
<g id="io">
  <!-- cover -->
  <polygon points="53.5,272 53.5,279 86.5,293 86.5,286" fill="#f3f3f0" stroke="#cfcfc8" stroke-width="0.5"/>
  <polygon points="45.8,264.5 105.5,253.9 152.3,278.4 99,288.7" fill="#f2f2ee" stroke="#cdcdc6" stroke-width="0.7"/>
  <polygon points="45.8,264.5 99,288.7 99,292 45.8,267.5" fill="#e8e8e3" stroke="#cdcdc6" stroke-width="0.5"/>
  <polygon points="99,288.7 152.3,278.4 152.3,281.5 99,292" fill="#e4e4df" stroke="#cdcdc6" stroke-width="0.5"/>
  <g fill="#e9e9e4" stroke="#bcbcb4" stroke-width="0.5">
    <path d="M71.8 270.5 v3.5 a3 1.7 0 0 0 6 0 v-3.5"/><ellipse cx="74.8" cy="270.5" rx="3" ry="1.7"/>
    <path d="M102.5 260.5 v3 a3 1.7 0 0 0 6 0 v-3"/><ellipse cx="105.5" cy="260.5" rx="3" ry="1.7"/>
    <path d="M99.3 283 v3.5 a3 1.7 0 0 0 6 0 v-3.5"/><ellipse cx="102.3" cy="283" rx="3" ry="1.7"/>
    <path d="M139.4 279 v3 a2.6 1.5 0 0 0 5.2 0 v-3"/><ellipse cx="142" cy="279" rx="2.6" ry="1.5"/>
  </g>
  <path d="M74.8 273v36M103.2 286v12" stroke="#7b7fe0" stroke-width="0.5" stroke-dasharray="1.5 1"/>
  <!-- pcb -->
  <polygon points="49.6,310.4 107.6,299.1 136,313.7 78,325" fill="#34d444"/>
  <polygon points="49.6,310.4 78,325 78,327 49.6,312.4" fill="#1d7a28"/>
  <polygon points="78,325 136,313.7 136,315.7 78,327" fill="#22902e"/>
  <path d="M50.5 311.5 L76 324.5" stroke="#151515" stroke-width="1.4"/>
  <path d="M62 309 L96 323M74 306 L110 320" stroke="#5ae06a" stroke-width="0.5" opacity="0.7"/>
  <!-- connector -->
  <polygon points="88.5,299.9 116.2,296.6 132,307.2 107,314.4" fill="#9a9ea6" stroke="#6a6e76" stroke-width="0.5"/>
  <polygon points="88.5,299.9 107,314.4 107,316.5 88.5,302" fill="#7c8088"/>
  <polygon points="107,314.4 132,307.2 132,309.3 107,316.5" fill="#6e7278"/>
  <path d="M96 300 L112 298 L124 306 L108 310 Z" fill="#888c94" stroke="#5a5e66" stroke-width="0.4"/>
  <path d="M100 303 L116 301M104 306 L120 304" stroke="#60646c" stroke-width="0.4"/>
  <rect x="97" y="298" width="5" height="1.6" fill="#4fcf5f"/>
  <g fill="#e05050"><circle cx="135" cy="306.5" r="0.8"/></g>
  <g fill="#40c0e0"><circle cx="138" cy="301" r="0.7"/></g>
  <g fill="#40d060"><circle cx="141" cy="307.5" r="0.7"/></g>
  <!-- tray -->
  <polygon points="43.9,332.2 105.6,324.4 151.9,345.9 85,356.2" fill="#bdbdbd" stroke="#4e4e4e" stroke-width="0.6"/>
  <polygon points="50,337 104,330 145,348.5 87,356" fill="#919191" stroke="#666" stroke-width="0.4"/>
  <polygon points="50,337 104,330 104,334 56,340.5" fill="#8c8c8c"/>
  <polygon points="104,330 145,348.5 140,349.5 104,334" fill="#9a9a9a"/>
  <polygon points="116,334.5 129,336.5 135.5,345.5 122,343.5" fill="#f2f2f2" stroke="#555" stroke-width="0.4"/>
  <polygon points="91.9,335 103,333.5 105.6,340.7 94,342.5" fill="#c9c9c9" stroke="#666" stroke-width="0.4"/>
  <polygon points="80,338 92,336.5 92,339 80,340.5" fill="#bcbcbc" stroke="#666" stroke-width="0.3"/>
  <rect x="73" y="337.5" width="3.2" height="2.6" fill="#d0d0d0" stroke="#555" stroke-width="0.3"/>
  <polygon points="85,356.2 151.9,345.9 151.9,359.6 85,369.9" fill="#8e8e8e" stroke="#4e4e4e" stroke-width="0.6"/>
  <path d="M89 361.5 L148 352.2" stroke="#555" stroke-width="0.8"/>
  <path d="M92 365 L138 357.8" stroke="#777" stroke-width="0.5"/>
  <circle cx="144" cy="353.5" r="1.5" fill="#888" stroke="#444" stroke-width="0.3"/>
  <polygon points="43.9,332.2 85,356.2 85,362 43.9,339" fill="#888888" stroke="#4e4e4e" stroke-width="0.5"/>
  <!-- connector plate -->
  <polygon points="39.5,342.3 44,341 80,353.5 78.2,355.3" fill="#b4c0d0" stroke="#555" stroke-width="0.4"/>
  <polygon points="39.5,342.3 78.2,355.3 75,359 37,346.7" fill="#a8b4c6" stroke="#555" stroke-width="0.4"/>
  <polygon points="37,346.7 75,359 75,360.5 37,348.2" fill="#262626"/>
  <path d="M74.8 327v14M103.2 327v24" stroke="#7b7fe0" stroke-width="0.5" stroke-dasharray="1.5 1"/>
  <!-- orange caps -->
  <polygon points="27.6,342 37,340 41.3,341.5 41.3,347 32,349.3 27.6,347.5" fill="#b65c3c" stroke="#6a3020" stroke-width="0.5"/>
  <polygon points="68.7,362 79,359.6 83.3,361.5 83.3,367.5 74,369.9 68.7,368" fill="#b65c3c" stroke="#6a3020" stroke-width="0.5"/>
</g>


<!-- ===== bottom-right panel content ===== -->
<defs>
  <linearGradient id="lcd" x1="0" y1="0" x2="0.6" y2="1">
    <stop offset="0" stop-color="#e4845e"/>
    <stop offset="0.4" stop-color="#d88a8c"/>
    <stop offset="0.7" stop-color="#b07a94"/>
    <stop offset="1" stop-color="#5c4c70"/>
  </linearGradient>
</defs>
<g id="br">
  <!-- C/D skin -->
  <polygon points="572.6,279.4 595.9,268 596.5,297.1 573.7,306.2" fill="#aaaaaa"/>
  <polygon points="575.4,279 593.7,270.8 593.7,280 575.4,288.5" fill="#35383c"/>
  <g fill="#5a5e62"><rect x="578" y="280" width="14" height="0.8" transform="rotate(-24 585 280)"/><rect x="578" y="283" width="14" height="0.8" transform="rotate(-24 585 283)"/></g>
  <polygon points="581.7,290.2 588.5,288 588.5,296 581.7,298.2" fill="#3a7a3e"/>
  <rect x="576" y="281" width="1.8" height="4.7" fill="#3a8ad0"/>
  <rect x="576" y="293.6" width="1.8" height="10.4" fill="#3a8ad0"/>
  <rect x="597.6" y="268.6" width="1.8" height="2.8" fill="#3a8ad0"/>
  <rect x="598.2" y="280" width="1.8" height="12.5" fill="#3a8ad0"/>
  <!-- green board -->
  <polygon points="601.1,288.5 604,287.3 604,290 610,287.3 610,283.5 614,281.6 614,285.2 619,283 619,278 622.7,276.5 622.7,290.2 602.2,297.1" fill="#2c4f2e"/>
  <g fill="#4a7a4a"><rect x="606" y="290" width="3" height="2"/><rect x="613" y="287" width="3" height="2"/><rect x="619" y="284" width="2" height="2"/></g>
  <!-- copper T -->
  <polygon points="622.3,282.2 637.6,277.3 637.6,279.7 631.1,283.8 631.1,290.2 627.9,291 627.1,286.2 623.1,287.8" fill="#c9a062"/>
  <!-- black pieces -->
  <polygon points="631.9,290.8 636.4,288.6 636.4,297.5 632.6,299.8" fill="#262626"/>
  <polygon points="642.3,284.1 646.8,281.9 646.8,289.3 643,291.6" fill="#262626"/>
  <polygon points="629.7,305 647.5,294.6 647.5,303.5 630.4,314.6" fill="#282828"/>
  <!-- battery -->
  <defs><linearGradient id="bat" x1="0" y1="0" x2="1" y2="0"><stop offset="0" stop-color="#8e8e8e"/><stop offset="1" stop-color="#747474"/></linearGradient></defs>
  <polygon points="649.8,293.8 669.1,282.6 669.1,314.6 650.5,326.5" fill="url(#bat)"/>
  <path d="M649.8 293.8 L650.5 326.5 M649.8 293.8 L669.1 282.6" stroke="#e2e2e2" stroke-width="0.9" fill="none"/>
  <!-- A/B skin -->
  <defs><linearGradient id="abs" x1="0" y1="0" x2="1" y2="0"><stop offset="0" stop-color="#8c8c8c"/><stop offset="1" stop-color="#a8a8a8"/></linearGradient></defs>
  <polygon points="569.7,332.7 599.5,326.7 599.5,356.5 570.4,364.7" fill="url(#abs)"/>
  <g fill="#c4c4c4" opacity="0.7" filter="url(#bl4)"><rect x="574" y="341" width="3" height="1"/><rect x="586" y="343" width="3" height="1"/><rect x="578" y="352" width="3" height="1"/><rect x="590" y="350" width="3" height="1"/><rect x="575" y="358" width="3" height="1"/><rect x="592" y="337" width="2" height="1"/></g>
  <path d="M584.6 338.6 L591.3 337.1 L590.6 334.2 L597.3 331.9 L604.7 328.9 L607.7 329.7 M598 332.7 L598.7 343.8" stroke="#2a2a2a" stroke-width="1.1" fill="none"/>
  <text x="609" y="333" font-size="2.5" fill="#555">1a</text>
  <!-- small parts -->
  <rect x="601.7" y="344.6" width="4.5" height="4.5" fill="#2f7a3a"/>
  <path d="M611.4 349 Q606 356 601.5 366" stroke="#2a2a2a" stroke-width="1.5" fill="none" stroke-linecap="round"/>
  <path d="M601.5 366 Q600 369 602 369.5" stroke="#777" stroke-width="0.6" fill="none"/>
  <path d="M615.9 346.1 L622.6 352" stroke="#2a2a2a" stroke-width="1.6" stroke-linecap="round"/>
  <path d="M622.6 352 L622.6 361 L616 362" stroke="#444" stroke-width="0.6" fill="none"/>
  <rect x="612.2" y="360.2" width="1.5" height="4.5" fill="#2a2a2a"/>
  <path d="M610.7 372.2 L635.3 361.7" stroke="#333" stroke-width="1.8" stroke-linecap="round"/>
  <!-- LCD -->
  <polygon points="662,333 671,336 671,366 664,369 640,377 638.9,374.9 662.8,364.6" fill="#ebebee"/>
  <clipPath id="lcdclip"><polygon points="638.9,342.1 662.8,334.6 662.8,364.6 638.9,374.9"/></clipPath>
  <g clip-path="url(#lcdclip)">
  <polygon points="638.9,342.1 662.8,334.6 662.8,364.6 638.9,374.9" fill="url(#lcd)"/>
  <g filter="url(#bl6)">
  <polygon points="649,340 655,338 659,346 654,354 651,348" fill="#90b8c0" opacity="0.6"/>
  <polygon points="657,337 663,334 663,356 659,346" fill="#d25c8c" opacity="0.6"/>
  <polygon points="636,360 646,357 645,376 636,376" fill="#54486c" opacity="0.5"/>
  </g>
  </g>
  <!-- pointer lines -->
  <g stroke="#222" stroke-width="0.6" fill="none">
    <path d="M565 269 L571 278.5"/>
    <path d="M634.4 268.5 L626.5 279.5"/>
    <path d="M655.3 281 L651.3 291"/>
    <path d="M607.7 317.6 L625.5 291.8"/>
    <path d="M628.9 333.5 L619.2 341.9"/>
    <path d="M551.3 376.5 L569.3 364"/>
    <path d="M637.2 376.5 L627.5 372.3"/>
  </g>
  <g fill="#111">
    <polygon points="571.5,279.5 569.2,277.4 572.4,276.6"/>
    <polygon points="626,280.5 625.6,277.2 628.4,278.4"/>
    <polygon points="651,292 650.3,288.7 653,289.6"/>
    <polygon points="625.8,291 623.5,293.4 626.8,293.6"/>
    <polygon points="618.5,342.5 619.6,339.6 621.2,342"/>
    <polygon points="570,363.5 566.7,364 568.4,366.5"/>
    <polygon points="626.5,372 629.5,371 628.8,374"/>
  </g>
  <!-- labels -->
  <g font-size="6.8" fill="#2e2e2e" stroke="#2e2e2e" stroke-width="0.18" style="white-space:pre">
    <text x="549.7" y="265.9" textLength="58.2" lengthAdjust="spacingAndGlyphs">C/D skin&#160; repairability</text>
    <text x="628.6" y="266.4" textLength="115" lengthAdjust="spacingAndGlyphs">Core board, IO board Repair &amp; Recyclability</text>
    <text x="653.6" y="279.7" textLength="53.4" lengthAdjust="spacingAndGlyphs">Battery&#160; repairability</text>
    <text x="567.9" y="323" textLength="106.7" lengthAdjust="spacingAndGlyphs">Fan &amp; thermal components&#160; Repairability</text>
    <text x="628.9" y="332.2" textLength="90" lengthAdjust="spacingAndGlyphs">LCD, Camera, Sensor&#160; repairability</text>
    <text x="531.1" y="386.2" textLength="57.6" lengthAdjust="spacingAndGlyphs">A/B skin&#160; repairability</text>
    <text x="608.9" y="386.2" textLength="101.1" lengthAdjust="spacingAndGlyphs">Sensor cable &amp; Connector repairability</text>
  </g>
</g>

<!-- texts -->
<text style="word-spacing:-2.5px" x="8.6" y="32.6" font-size="13.2" fill="#707070" textLength="170.5" lengthAdjust="spacingAndGlyphs">Scalable Modular Architecture</text>
<text style="word-spacing:-2.5px" x="543" y="25.3" font-size="13.2" fill="#707070" textLength="190.7" lengthAdjust="spacingAndGlyphs">Upgradable MB, Storage, Memory</text>
<text style="word-spacing:-2.5px" x="543" y="242.7" font-size="13.2" fill="#707070" textLength="168" lengthAdjust="spacingAndGlyphs">Field Replaceable/Repairable</text>
<text style="word-spacing:-1.5px" x="39.9" y="241.4" font-size="12" fill="#707070" textLength="111.1" lengthAdjust="spacingAndGlyphs">IO Expansion Cards</text>
<text x="253.3" y="294.4" font-size="14.5" fill="#595959" textLength="195.3" lengthAdjust="spacingAndGlyphs">Upgrade, Customize &amp; Repair</text>
<text x="545.6" y="161.6" font-size="10" fill="#8a8db6" textLength="38.8" lengthAdjust="spacingAndGlyphs">SSD/Wifi</text>
<text x="633.9" y="163.6" font-size="10.6" fill="#8a8fb8" textLength="41.3" lengthAdjust="spacingAndGlyphs">LPCAMM</text>
</svg>
</body></html>
